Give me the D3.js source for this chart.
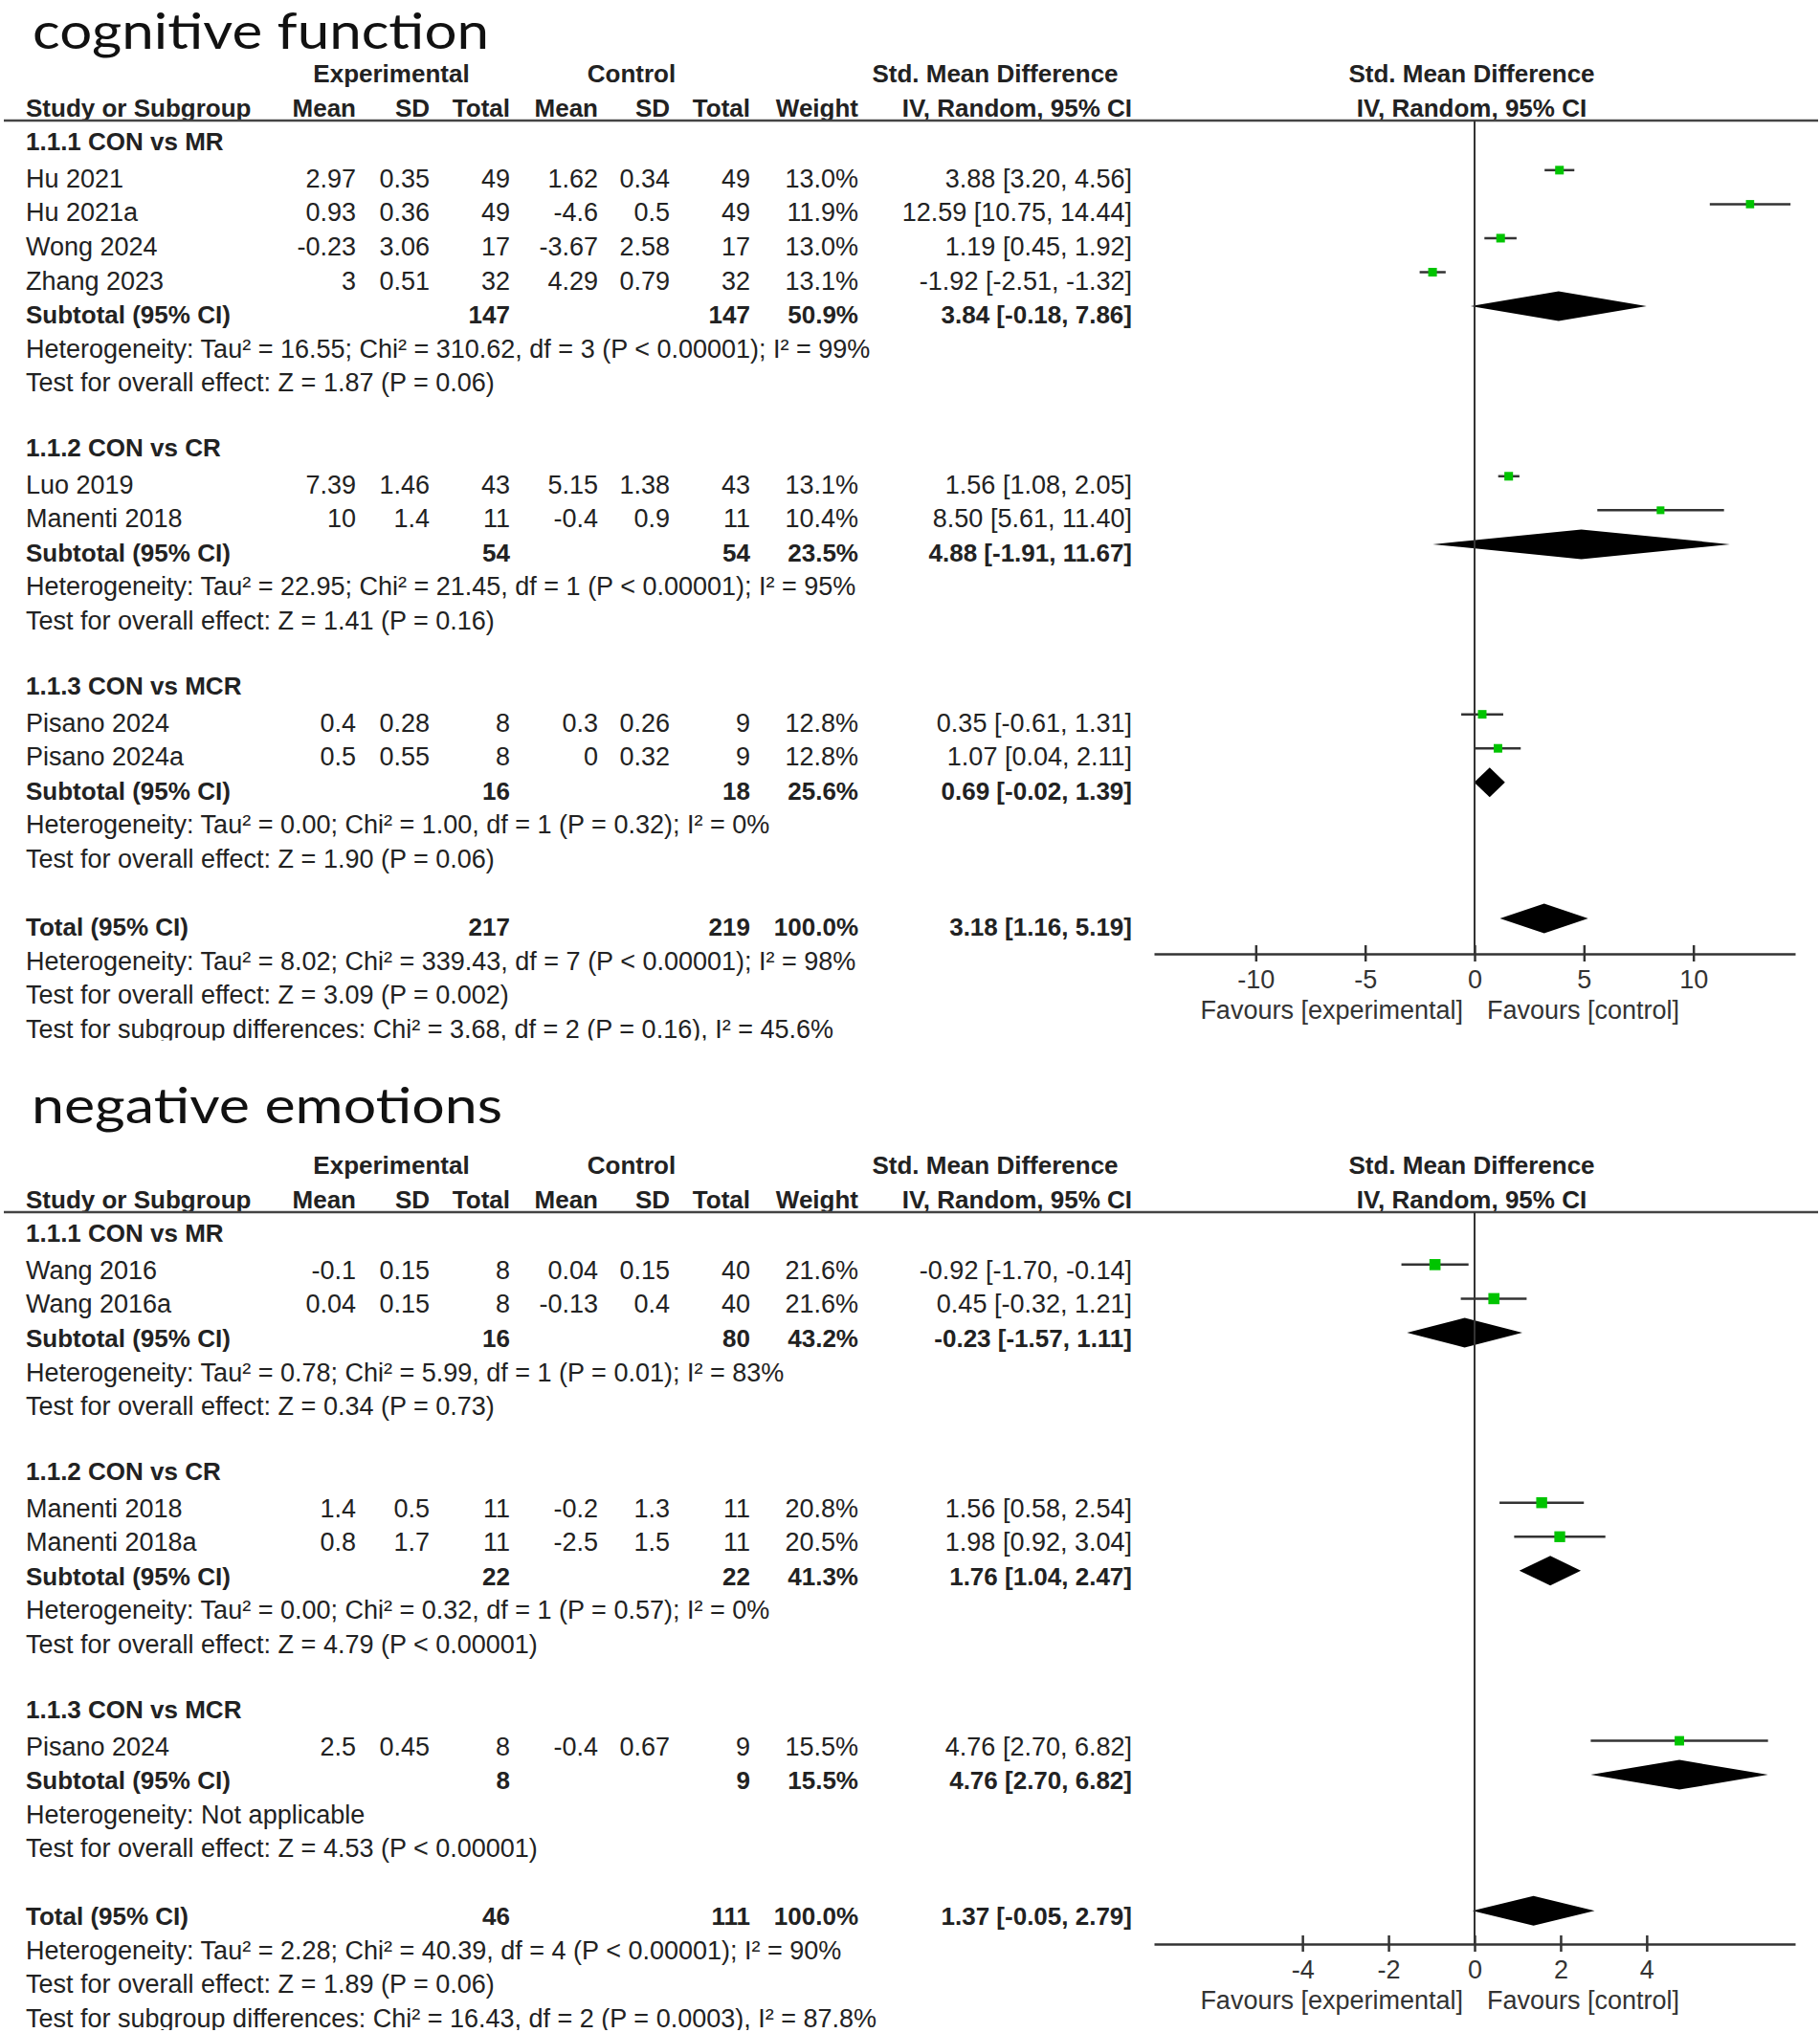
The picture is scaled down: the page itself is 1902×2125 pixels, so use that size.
<!DOCTYPE html>
<html>
<head>
<meta charset="utf-8">
<script src="https://cdn.jsdelivr.net/npm/d3@7"></script>
<style>
  body { margin: 0; background: #fff; }
  svg { display: block; }
</style>
</head>
<body>
<script>
// forest plots: cognitive function / negative emotions

// ---- data ----
const titles = ["cognitive function", "negative emotions"];

const colHeads = ["Mean", "SD", "Total", "Mean", "SD", "Total", "Weight", "IV, Random, 95% CI"];
const groupHeads = ["Experimental", "Control", "Std. Mean Difference"];
const plotHeads = ["Std. Mean Difference", "IV, Random, 95% CI"];
const favours = ["Favours [experimental]", "Favours [control]"];

// study rows: name, exp mean, exp sd, exp n, ctl mean, ctl sd, ctl n, weight, smd, lo, hi
const cogGroups = [
  { label: "1.1.1 CON vs MR",
    studies: [
      ["Hu 2021", 2.97, 0.35, 49, 1.62, 0.34, 49, 13.0, 3.88, 3.20, 4.56],
      ["Hu 2021a", 0.93, 0.36, 49, -4.6, 0.5, 49, 11.9, 12.59, 10.75, 14.44],
      ["Wong 2024", -0.23, 3.06, 17, -3.67, 2.58, 17, 13.0, 1.19, 0.45, 1.92],
      ["Zhang 2023", 3, 0.51, 32, 4.29, 0.79, 32, 13.1, -1.92, -2.51, -1.32]
    ],
    subtotal: [147, 147, 50.9, 3.84, -0.18, 7.86],
    notes: ["Heterogeneity: Tau² = 16.55; Chi² = 310.62, df = 3 (P < 0.00001); I² = 99%",
            "Test for overall effect: Z = 1.87 (P = 0.06)"] },
  { label: "1.1.2 CON vs CR",
    studies: [
      ["Luo 2019", 7.39, 1.46, 43, 5.15, 1.38, 43, 13.1, 1.56, 1.08, 2.05],
      ["Manenti 2018", 10, 1.4, 11, -0.4, 0.9, 11, 10.4, 8.50, 5.61, 11.40]
    ],
    subtotal: [54, 54, 23.5, 4.88, -1.91, 11.67],
    notes: ["Heterogeneity: Tau² = 22.95; Chi² = 21.45, df = 1 (P < 0.00001); I² = 95%",
            "Test for overall effect: Z = 1.41 (P = 0.16)"] },
  { label: "1.1.3 CON vs MCR",
    studies: [
      ["Pisano 2024", 0.4, 0.28, 8, 0.3, 0.26, 9, 12.8, 0.35, -0.61, 1.31],
      ["Pisano 2024a", 0.5, 0.55, 8, 0, 0.32, 9, 12.8, 1.07, 0.04, 2.11]
    ],
    subtotal: [16, 18, 25.6, 0.69, -0.02, 1.39],
    notes: ["Heterogeneity: Tau² = 0.00; Chi² = 1.00, df = 1 (P = 0.32); I² = 0%",
            "Test for overall effect: Z = 1.90 (P = 0.06)"] }
];
const cogTotal = [217, 219, 100.0, 3.18, 1.16, 5.19];
const cogTotalNotes = [
  "Heterogeneity: Tau² = 8.02; Chi² = 339.43, df = 7 (P < 0.00001); I² = 98%",
  "Test for overall effect: Z = 3.09 (P = 0.002)",
  "Test for subgroup differences: Chi² = 3.68, df = 2 (P = 0.16), I² = 45.6%"
];
const cogTicks = [-10, -5, 0, 5, 10];

const negGroups = [
  { label: "1.1.1 CON vs MR",
    studies: [
      ["Wang 2016", -0.1, 0.15, 8, 0.04, 0.15, 40, 21.6, -0.92, -1.70, -0.14],
      ["Wang 2016a", 0.04, 0.15, 8, -0.13, 0.4, 40, 21.6, 0.45, -0.32, 1.21]
    ],
    subtotal: [16, 80, 43.2, -0.23, -1.57, 1.11],
    notes: ["Heterogeneity: Tau² = 0.78; Chi² = 5.99, df = 1 (P = 0.01); I² = 83%",
            "Test for overall effect: Z = 0.34 (P = 0.73)"] },
  { label: "1.1.2 CON vs CR",
    studies: [
      ["Manenti 2018", 1.4, 0.5, 11, -0.2, 1.3, 11, 20.8, 1.56, 0.58, 2.54],
      ["Manenti 2018a", 0.8, 1.7, 11, -2.5, 1.5, 11, 20.5, 1.98, 0.92, 3.04]
    ],
    subtotal: [22, 22, 41.3, 1.76, 1.04, 2.47],
    notes: ["Heterogeneity: Tau² = 0.00; Chi² = 0.32, df = 1 (P = 0.57); I² = 0%",
            "Test for overall effect: Z = 4.79 (P < 0.00001)"] },
  { label: "1.1.3 CON vs MCR",
    studies: [
      ["Pisano 2024", 2.5, 0.45, 8, -0.4, 0.67, 9, 15.5, 4.76, 2.70, 6.82]
    ],
    subtotal: [8, 9, 15.5, 4.76, 2.70, 6.82],
    notes: ["Heterogeneity: Not applicable",
            "Test for overall effect: Z = 4.53 (P < 0.00001)"] }
];
const negTotal = [46, 111, 100.0, 1.37, -0.05, 2.79];
const negTotalNotes = [
  "Heterogeneity: Tau² = 2.28; Chi² = 40.39, df = 4 (P < 0.00001); I² = 90%",
  "Test for overall effect: Z = 1.89 (P = 0.06)",
  "Test for subgroup differences: Chi² = 16.43, df = 2 (P = 0.0003), I² = 87.8%"
];
const negTicks = [-4, -2, 0, 2, 4];

// ---- layout ----
const width = 1902, height = 2125;
const FONT = "'Liberation Sans', Arial, Helvetica, sans-serif";
const fs = 27, fsBold = 26;
const ink = "#222";
const green = "#00c400";
const colX = [372, 449, 533, 625, 700, 784, 897, 1183];
const groupX = [409, 660, 1040];
const plotRange = [1206, 1876];

const svg = d3.select("body").append("svg")
    .attr("width", width)
    .attr("height", height)
    .attr("viewBox", [0, 0, width, height]);

// big titles
svg.selectAll("text.title")
  .data(titles)
  .join("text")
    .attr("class", "title")
    .attr("x", (d, i) => i ? 33 : 34)
    .attr("y", (d, i) => i ? 1174 : 51.3)
    .attr("font-family", "Lato, 'Open Sans', sans-serif")
    .attr("font-size", 52)
    .attr("textLength", (d, i) => i ? 492 : 477)
    .attr("lengthAdjust", "spacingAndGlyphs")
    .attr("fill", "#111")
    .text(d => d);

const ci = (e, lo, hi) => `${e.toFixed(2)} [${lo.toFixed(2)}, ${hi.toFixed(2)}]`;

function flatten(groups, total, totalNotes) {
  const rows = [];
  groups.forEach(g => {
    rows.push({ kind: "group", label: g.label });
    g.studies.forEach(s => rows.push({ kind: "study", v: s }));
    rows.push({ kind: "sub", label: "Subtotal (95% CI)", v: g.subtotal });
    g.notes.forEach(t => rows.push({ kind: "note", label: t }));
    rows.push({ kind: "blank" });
  });
  rows.push({ kind: "sub", label: "Total (95% CI)", v: total });
  totalNotes.forEach(t => rows.push({ kind: "note", label: t }));
  return rows;
}

function drawPanel(offsetY, groups, total, totalNotes, ticks, domain, axisY, markOff, id) {
  const rows = flatten(groups, total, totalNotes);

  const y = d3.scaleLinear().domain([0, 1]).range([160.3, 195.85]);
  const x = d3.scaleLinear().domain(domain).range(plotRange);
  const side = d3.scaleSqrt().domain([0, 25]).range([0, 12.5]);

  // clip the last line like the original crop
  svg.append("clipPath").attr("id", id)
    .append("rect")
      .attr("x", 0).attr("y", -200)
      .attr("width", width).attr("height", y(rows.length - 1) + 203);

  const g = svg.append("g")
      .attr("transform", `translate(0,${offsetY})`)
      .attr("font-family", FONT)
      .attr("font-size", fs)
      .attr("fill", ink);
  const body = g.append("g").attr("clip-path", `url(#${id})`);

  // headers
  g.selectAll("text.grp")
    .data(groupHeads)
    .join("text")
      .attr("x", (d, i) => groupX[i]).attr("y", 86)
      .attr("text-anchor", "middle").attr("font-weight", "bold").attr("font-size", fsBold)
      .text(d => d);
  g.append("text").attr("x", 27).attr("y", 122)
      .attr("font-weight", "bold").attr("font-size", fsBold).text("Study or Subgroup");
  g.selectAll("text.col")
    .data(colHeads)
    .join("text")
      .attr("x", (d, i) => colX[i]).attr("y", 122)
      .attr("text-anchor", "end").attr("font-weight", "bold").attr("font-size", fsBold)
      .text(d => d);
  g.selectAll("text.ph")
    .data(plotHeads)
    .join("text")
      .attr("x", x(0) - 3).attr("y", (d, i) => i ? 122 : 86)
      .attr("text-anchor", "middle").attr("font-weight", "bold").attr("font-size", fsBold)
      .text(d => d);

  g.append("line")
      .attr("x1", 4).attr("x2", 1900)
      .attr("y1", 126).attr("y2", 126)
      .attr("stroke", "#444").attr("stroke-width", 2.5);

  // zero line
  g.append("line")
      .attr("x1", x(0)).attr("x2", x(0))
      .attr("y1", 126).attr("y2", axisY)
      .attr("stroke", "#333").attr("stroke-width", 2);

  rows.forEach((r, i) => {
    const yy = y(i);
    if (r.kind === "blank") return;
    if (r.kind === "group") {
      body.append("text").attr("x", 27).attr("y", yy - 3)
        .attr("font-weight", "bold").attr("font-size", fsBold).text(r.label);
      return;
    }
    if (r.kind === "note") {
      body.append("text").attr("x", 27).attr("y", yy).text(r.label);
      return;
    }
    if (r.kind === "study") {
      const v = r.v;
      body.append("text").attr("x", 27).attr("y", yy).text(v[0]);
      const cells = [v[1], v[2], v[3], v[4], v[5], v[6]].map(String)
        .concat([v[7].toFixed(1) + "%", ci(v[8], v[9], v[10])]);
      body.selectAll(null).data(cells).join("text")
        .attr("x", (d, j) => colX[j]).attr("y", yy)
        .attr("text-anchor", "end").text(d => d);
      const ym = yy - markOff;
      body.append("line")
        .attr("x1", x(v[9])).attr("x2", x(v[10]))
        .attr("y1", ym).attr("y2", ym)
        .attr("stroke", "#333").attr("stroke-width", 2.5);
      const s = side(v[7]);
      body.append("rect")
        .attr("x", x(v[8]) - s / 2).attr("y", ym - s / 2)
        .attr("width", s).attr("height", s)
        .attr("fill", green);
      return;
    }
    // subtotal / total
    const v = r.v;
    body.append("text").attr("x", 27).attr("y", yy)
      .attr("font-weight", "bold").attr("font-size", fsBold).text(r.label);
    const cells = [[2, String(v[0])], [5, String(v[1])], [6, v[2].toFixed(1) + "%"], [7, ci(v[3], v[4], v[5])]];
    body.selectAll(null).data(cells).join("text")
      .attr("x", d => colX[d[0]]).attr("y", yy)
      .attr("text-anchor", "end").attr("font-weight", "bold").attr("font-size", fsBold)
      .text(d => d[1]);
    const ym = yy - markOff;
    body.append("polygon")
      .attr("points", [[x(v[4]), ym], [x(v[3]), ym - 15.5], [x(v[5]), ym], [x(v[3]), ym + 15.5]].join(" "))
      .attr("fill", "#000");
  });

  // axis
  const gAxis = g.append("g")
      .attr("transform", `translate(0,${axisY})`)
      .call(d3.axisBottom(x)
        .tickValues(ticks)
        .tickFormat(d => String(d))
        .tickSize(8)
        .tickSizeOuter(0)
        .tickPadding(9));
  gAxis.attr("font-family", FONT).attr("font-size", fs);
  gAxis.select(".domain").attr("stroke", "#333").attr("stroke-width", 2.5);
  gAxis.selectAll(".tick line").attr("y1", -9).attr("stroke", "#333").attr("stroke-width", 2.5);
  gAxis.selectAll(".tick text").attr("fill", "#333");

  g.append("text")
      .attr("x", x(0) - 12).attr("y", axisY + 68)
      .attr("text-anchor", "end").attr("fill", "#333")
      .text(favours[0]);
  g.append("text")
      .attr("x", x(0) + 13).attr("y", axisY + 68)
      .attr("fill", "#333")
      .text(favours[1]);
}

drawPanel(0, cogGroups, cogTotal, cogTotalNotes, cogTicks, [-14.65, 14.65], 997, 18, "clipTop");
drawPanel(1141, negGroups, negTotal, negTotalNotes, negTicks, [-7.45, 7.45], 891, 15, "clipBottom");
</script>
</body>
</html>
